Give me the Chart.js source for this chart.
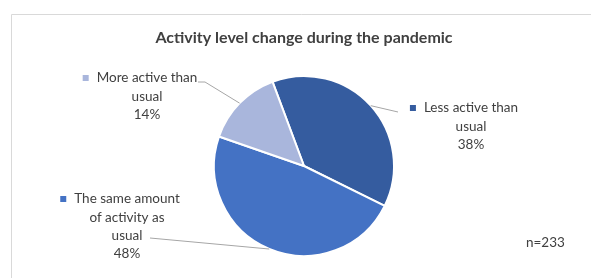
<!DOCTYPE html>
<html>
<head>
<meta charset="utf-8">
<script src="https://cdn.jsdelivr.net/npm/chart.js@4"></script>
<style>
  html, body { margin: 0; padding: 0; background: #fff; }
  #wrap { width: 591px; height: 278px; }
</style>
</head>
<body>
<div id="wrap"><canvas id="activityChart" width="591" height="278"></canvas></div>
<script>
// data (n=233)
const categories = ['Less active than usual', 'The same amount of activity as usual', 'More active than usual'];
const shares = [38, 48, 14];
const labelLines = [
    ['Less active than', 'usual'],
    ['The same amount', 'of activity as', 'usual'],
    ['More active than', 'usual']
];
const sliceColors = ['#355C9F', '#4472C4', '#A9B6DC'];
const titleText = 'Activity level change during the pandemic';
const noteText = 'n=233';

// where each data label sits (text centre x, first line y) and where its leader line stops
const labelSpots = [
    { x: 471, y: 108, lead: [[398, 112]] },
    { x: 127, y: 199, lead: [[150, 238]] },
    { x: 147, y: 78, lead: [[198, 82], [205, 82]] }
];

const FONT = 'Lato, "Open Sans", sans-serif';
const TEXT = '#404040';

const labelPlugin = {
    id: 'excelLabels',
    afterDraw(chart) {
        const ctx = chart.ctx;
        ctx.save();

        // chart frame (cropped on the right and bottom)
        ctx.strokeStyle = '#D9D9D9';
        ctx.lineWidth = 1;
        ctx.beginPath();
        ctx.moveTo(11.5, 278);
        ctx.lineTo(11.5, 14.5);
        ctx.lineTo(591, 14.5);
        ctx.stroke();

        // title
        ctx.fillStyle = TEXT;
        ctx.font = 'bold 16px ' + FONT;
        ctx.textAlign = 'center';
        ctx.textBaseline = 'middle';
        ctx.fillText(titleText, 304, 38);

        const arcs = chart.getDatasetMeta(0).data;
        arcs.forEach((arc, i) => {
            const spot = labelSpots[i];
            const mid = (arc.startAngle + arc.endAngle) / 2;
            const ex = arc.x + Math.cos(mid) * arc.outerRadius;
            const ey = arc.y + Math.sin(mid) * arc.outerRadius;

            // leader line
            ctx.strokeStyle = '#A6A6A6';
            ctx.lineWidth = 1;
            ctx.beginPath();
            ctx.moveTo(spot.lead[0][0], spot.lead[0][1]);
            spot.lead.slice(1).forEach(p => ctx.lineTo(p[0], p[1]));
            ctx.lineTo(ex, ey);
            ctx.stroke();

            // text lines
            ctx.font = '13.5px ' + FONT;
            ctx.fillStyle = TEXT;
            ctx.textAlign = 'center';
            const lines = labelLines[i].concat([shares[i] + '%']);
            lines.forEach((t, k) => {
                ctx.fillText(t, spot.x, spot.y + k * 18.3);
            });

            // legend key square in front of first line
            const w = ctx.measureText(labelLines[i][0]).width;
            ctx.fillStyle = sliceColors[i];
            ctx.fillRect(spot.x - w / 2 - 14, spot.y - 3, 6, 6);
        });

        ctx.font = '13.5px ' + FONT;
        ctx.fillStyle = TEXT;
        ctx.textAlign = 'left';
        ctx.fillText(noteText, 526, 243);
        ctx.restore();
    }
};

new Chart(document.getElementById('activityChart'), {
    type: 'pie',
    data: {
        labels: categories,
        datasets: [{
            data: shares,
            backgroundColor: sliceColors,
            borderColor: '#ffffff',
            borderWidth: 2
        }]
    },
    options: {
        responsive: false,
        animation: false,
        rotation: -20.5,
        layout: {
            padding: { left: 213, right: 196, top: 75, bottom: 21 }
        },
        plugins: {
            legend: { display: false },
            tooltip: { enabled: false },
            title: { display: false }
        }
    },
    plugins: [labelPlugin]
});
</script>
</body>
</html>
